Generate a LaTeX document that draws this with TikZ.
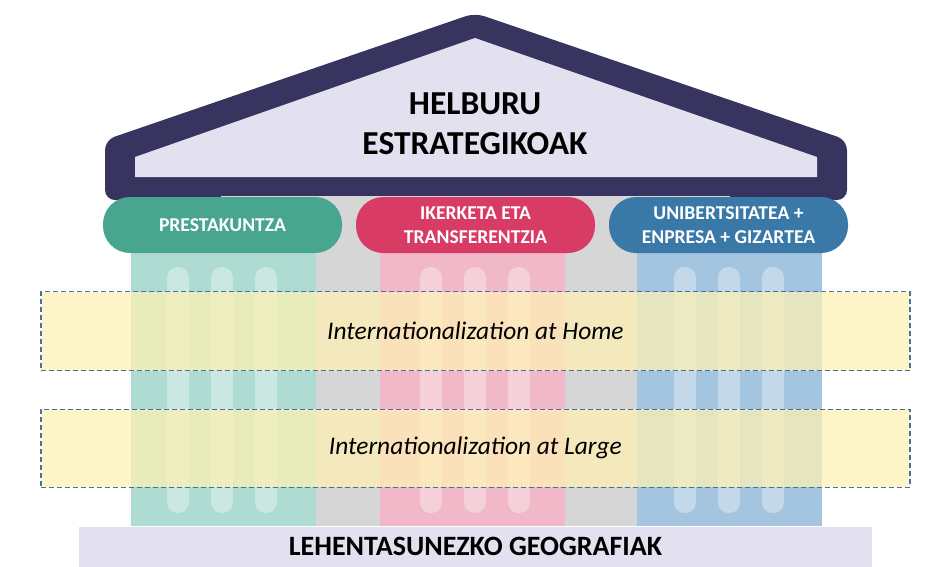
\documentclass[tikz,border=0pt]{standalone}
\usepackage{fontspec}
\setmainfont{Carlito}
\definecolor{roofdark}{HTML}{373560}
\definecolor{lav}{HTML}{E3E1EF}
\definecolor{grayband}{HTML}{D6D6D6}
\definecolor{tealpill}{HTML}{48A58E}
\definecolor{tealcol}{HTML}{AEDCD2}
\definecolor{pinkpill}{HTML}{D83C64}
\definecolor{pinkcol}{HTML}{F0B8C8}
\definecolor{bluepill}{HTML}{3A78A8}
\definecolor{bluecol}{HTML}{A3C5E0}
\definecolor{bandfill}{HTML}{FEF1B4}
\definecolor{banddash}{HTML}{4A6FA5}
\begin{document}
\begin{tikzpicture}[x=1pt,y=-1pt,
  pill/.style={rectangle, rounded corners=27pt, minimum width=239pt, minimum height=56pt,
    inner sep=0pt, text=white, align=center, font=\fontsize{19.6}{24}\selectfont\bfseries},
  band/.style={rectangle, minimum width=869pt, inner sep=0pt, fill=bandfill, fill opacity=0.73,
    text opacity=1, draw=banddash, line width=1.3pt, dash pattern=on 5pt off 3pt,
    font=\fontsize{25.4}{28}\selectfont\itshape},
  flute/.style={white, opacity=0.35, rounded corners=10.5pt}]
\useasboundingbox (0,0) rectangle (927,566);
% roof
\fill[roofdark, rounded corners=10pt] (475,200) -- (105,200) -- (105,140) -- (475,13) -- (847,140) -- (847,200) -- cycle;
\fill[lav] (135,157) -- (475,38) -- (817,157) -- (817,177) -- (135,177) -- cycle;
\node[align=center, font=\fontsize{33.5}{39.5}\selectfont\bfseries] (goal) at (475,123.5) {HELBURU\\ESTRATEGIKOAK};
% gray backdrop and pillars
\fill[grayband] (221,196) rectangle (730,526);
\fill[tealcol] (131,240) rectangle (316,526);
\fill[pinkcol] (380,240) rectangle (565,526);
\fill[bluecol] (637,240) rectangle (822,526);
\foreach \c in {222,475,729}{
  \foreach \o in {-44,0,44}{
    \fill[flute] (\c+\o-11,267) rectangle (\c+\o+11,513);
  }
}
% capitals
\node[pill, fill=tealpill] (prest) at (222.5,225) {PRESTAKUNTZA};
\node[pill, fill=pinkpill] (iker) at (475.5,225) {IKERKETA ETA\\TRANSFERENTZIA};
\node[pill, fill=bluepill] (unib) at (728.5,225) {UNIBERTSITATEA +\\ENPRESA + GIZARTEA};
% bands
\node[band, minimum height=79pt] (home) at (475.4,331.2) {Internationalization at Home};
\node[band, minimum height=78pt] (large) at (475.4,448.2) {Internationalization at Large};
% base
\node[rectangle, fill=lav, minimum width=793pt, minimum height=40pt, inner sep=0pt,
  font=\fontsize{28}{32}\selectfont\bfseries] (base) at (475.5,546.5) {LEHENTASUNEZKO GEOGRAFIAK};
\end{tikzpicture}
\end{document}
